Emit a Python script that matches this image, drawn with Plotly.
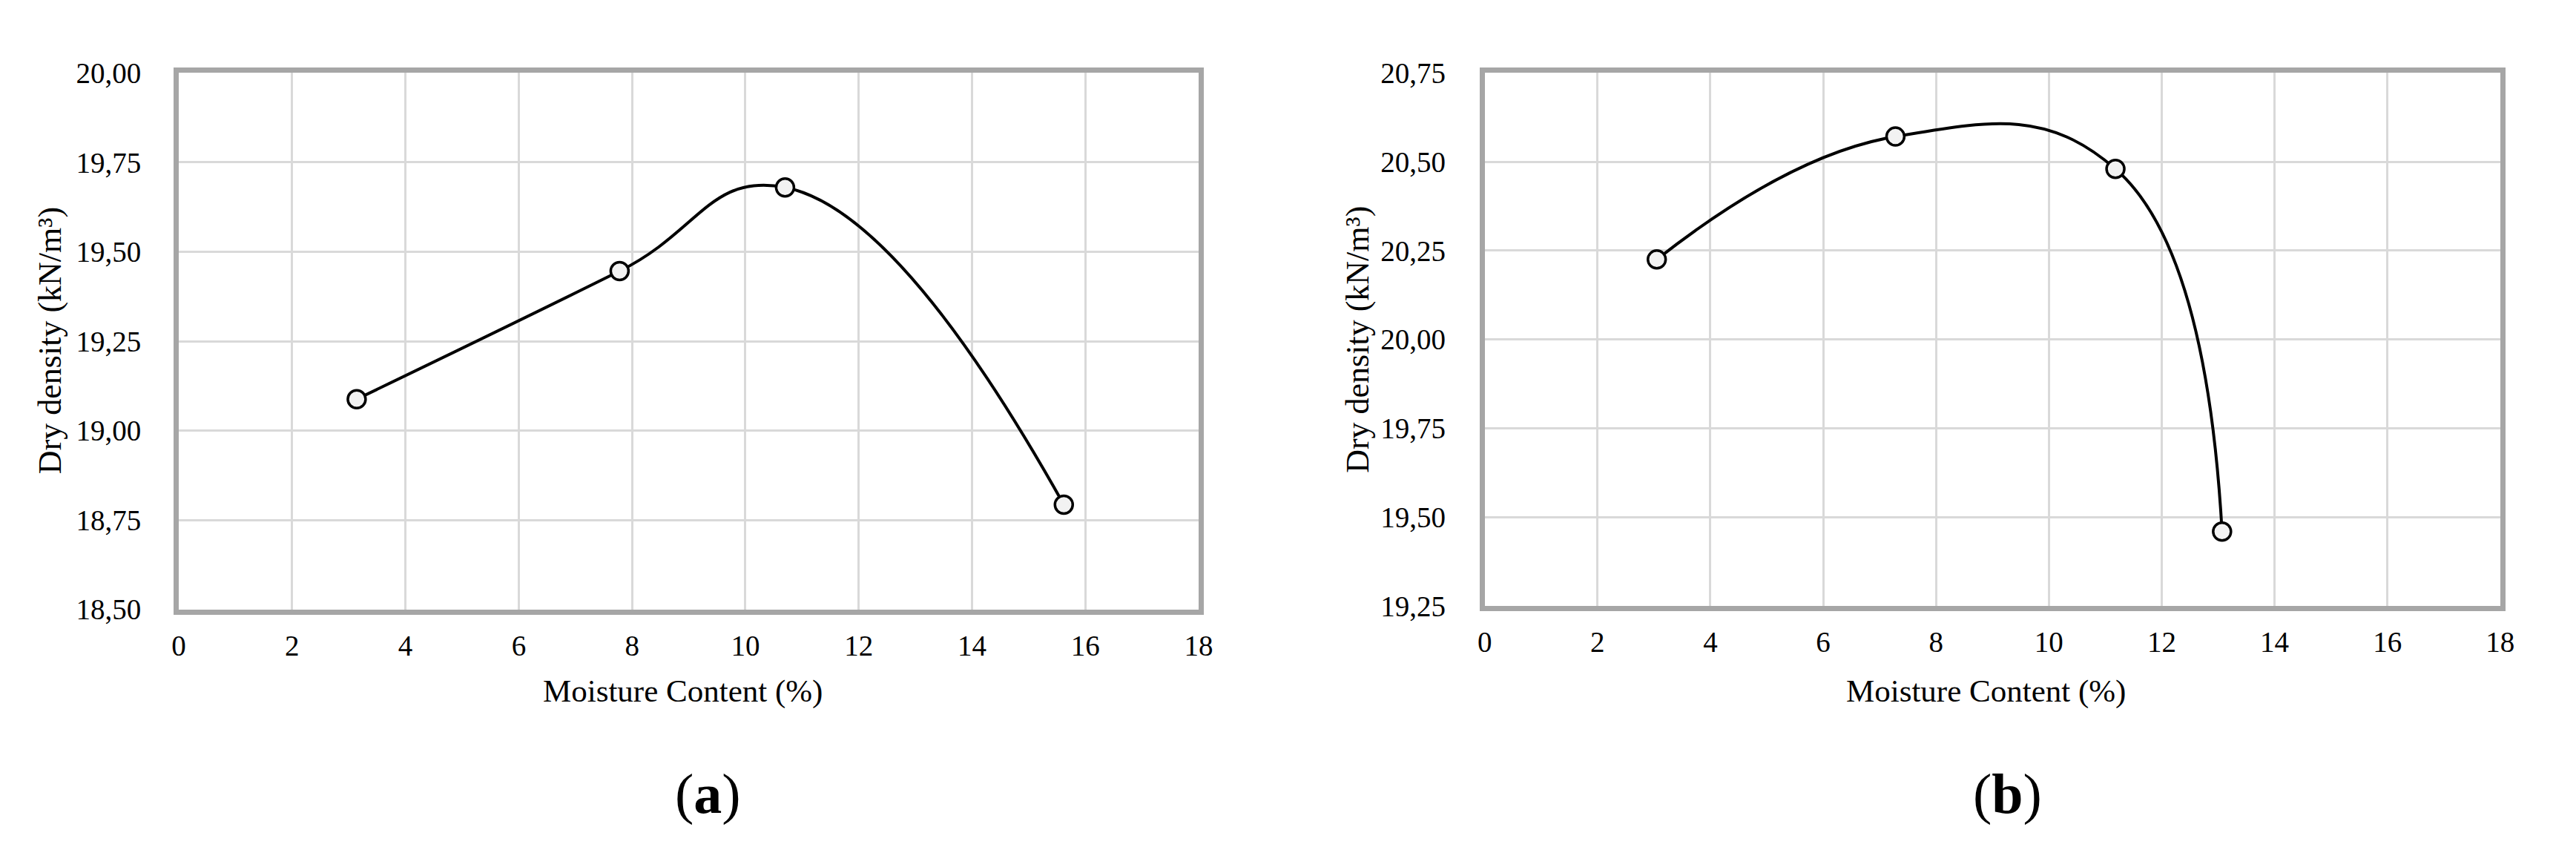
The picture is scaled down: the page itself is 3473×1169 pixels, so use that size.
import plotly.graph_objects as go

# ---- data ----
moisture_a = [3.14, 7.78, 10.70, 15.62]
density_a = [19.088, 19.446, 19.680, 18.793]
moisture_b = [3.05, 7.28, 11.18, 13.07]
density_b = [20.225, 20.571, 20.480, 19.459]

x_range = [0, 18]
x_dtick = 2
y_range_a = [18.5, 20.0]
y_range_b = [19.25, 20.75]
y_dtick = 0.25

x_title = "Moisture Content (%)"
y_title = "Dry density (kN/m³)"
captions = ["(<b>a</b>)", "(<b>b</b>)"]

W, H = 3473, 1169
FONT = "Liberation Serif, Times New Roman, serif"


def fx(p):
    return p / W


def fy(p):
    return 1 - p / H


fig = go.Figure()

marker = dict(symbol="circle", size=24, color="#f2f2f2",
              line=dict(color="black", width=3.5))

fig.add_trace(go.Scatter(x=moisture_a, y=density_a, mode="lines+markers",
                         line=dict(color="black", width=4, shape="spline", smoothing=1.3),
                         marker=marker, xaxis="x", yaxis="y", showlegend=False))
fig.add_trace(go.Scatter(x=moisture_b, y=density_b, mode="lines+markers",
                         line=dict(color="black", width=4, shape="spline", smoothing=1.3),
                         marker=marker, xaxis="x2", yaxis="y2", showlegend=False))

common_axis = dict(showgrid=True, gridcolor="#d9d9d9", gridwidth=3,
                   showline=True, linecolor="#a6a6a6", linewidth=7, mirror=True,
                   zeroline=False, ticks="",
                   tickfont=dict(family=FONT, size=39, color="black"))

fig.update_layout(
    width=W, height=H,
    margin=dict(l=0, r=0, t=0, b=0),
    paper_bgcolor="white", plot_bgcolor="white",
    separators=",.",
    xaxis=dict(domain=[fx(225), fx(1612)], range=x_range, dtick=x_dtick, tick0=0,
               anchor="y", ticklabelstandoff=8, **common_axis),
    yaxis=dict(domain=[fy(823), fy(72)], range=y_range_a, dtick=y_dtick, tick0=18.5,
               tickformat=".2f", anchor="x", ticklabelstandoff=36, **common_axis),
    xaxis2=dict(domain=[fx(2001), fx(3382)], range=x_range, dtick=x_dtick, tick0=0,
                anchor="y2", ticklabelstandoff=8, **common_axis),
    yaxis2=dict(domain=[fy(818), fy(72)], range=y_range_b, dtick=y_dtick, tick0=19.25,
                tickformat=".2f", anchor="x2", ticklabelstandoff=38, **common_axis),
)

annotations = []
# axis titles
for xc in (910, 2683):
    annotations.append(dict(x=fx(xc), y=fy(938), xref="paper", yref="paper",
                            text=x_title, showarrow=False, xanchor="center", yanchor="middle",
                            font=dict(family=FONT, size=43, color="black")))
for xc, yc in ((50, 447), (1828, 445)):
    annotations.append(dict(x=fx(xc), y=fy(yc), xref="paper", yref="paper",
                            text=y_title, showarrow=False, textangle=-90,
                            xanchor="center", yanchor="middle",
                            font=dict(family=FONT, size=44, color="black")))
# captions
for xc, cap in ((945, captions[0]), (2712, captions[1])):
    annotations.append(dict(x=fx(xc), y=fy(1081), xref="paper", yref="paper",
                            text=cap, showarrow=False, xanchor="center", yanchor="middle",
                            font=dict(family=FONT, size=76, color="black")))
fig.update_layout(annotations=annotations)

fig.write_html("out.html")
